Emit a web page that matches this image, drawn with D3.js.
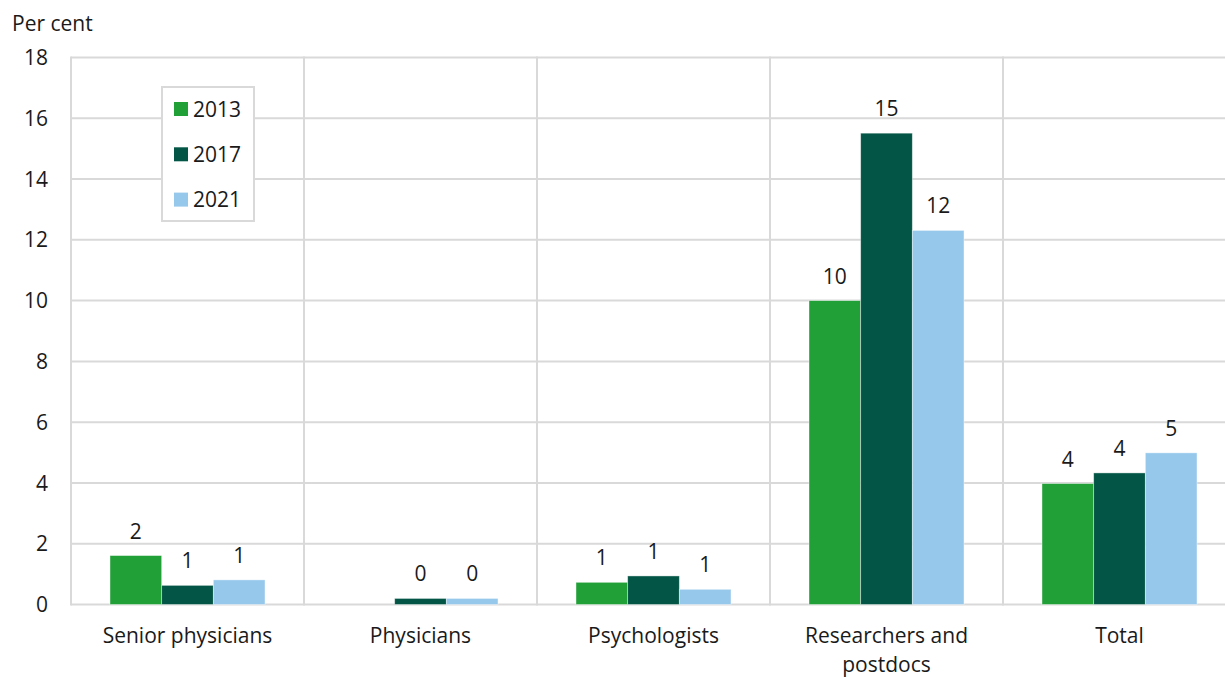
<!DOCTYPE html>
<html><head><meta charset="utf-8">
<script src="https://cdn.jsdelivr.net/npm/d3@7"></script>
<style>
body{margin:0;background:#fff;}
text{font-family:"Open Sans",sans-serif;fill:#1a1a1a;}
</style></head>
<body><svg id="c" width="1225" height="677"></svg>
<script>
const categories = [["Senior physicians"],["Physicians"],["Psychologists"],["Researchers and","postdocs"],["Total"]];
const seriesNames = ["2013","2017","2021"];
const v2013 = [1.61, null, 0.73, 10.0, 3.98];
const v2017 = [0.63, 0.2, 0.94, 15.51, 4.33];
const v2021 = [0.81, 0.2, 0.5, 12.31, 4.99];
const labels2013 = ["2", "", "1", "10", "4"];
const labels2017 = ["1", "0", "1", "15", "4"];
const labels2021 = ["1", "0", "1", "12", "5"];
const yTicks = [0,2,4,6,8,10,12,14,16,18];
const colors = ["#21a038","#035645","#96c8ec"];

(function(){
const FS = 21;
const series = [v2013, v2017, v2021];
const seriesLabels = [labels2013, labels2017, labels2021];
const svg = d3.select("#c");
const mLeft = 71, mTop = 57.5, mBottom = 604.5, catW = 233;
const x = d3.scaleBand().domain(d3.range(categories.length)).range([mLeft, mLeft + catW*categories.length]).paddingInner(0).paddingOuter(0);
const y = d3.scaleLinear().domain([0,18]).range([mBottom, mTop]);
const xs = d3.scaleBand().domain(d3.range(3)).range([39, catW-39]);

const grid = "#d9d9d9";
svg.append("g").selectAll("line").data(yTicks).join("line")
  .attr("x1", mLeft).attr("x2", 1225).attr("y1", d=>y(d)).attr("y2", d=>y(d))
  .attr("stroke", grid).attr("stroke-width", 2);
svg.append("g").selectAll("line").data(d3.range(categories.length)).join("line")
  .attr("x1", d=>x(d)).attr("x2", d=>x(d)).attr("y1", mTop-1).attr("y2", mBottom+1)
  .attr("stroke", grid).attr("stroke-width", 2);

svg.append("g").selectAll("text").data(yTicks).join("text")
  .attr("x", 48).attr("y", d=>y(d)).attr("dy","0.36em").attr("text-anchor","end")
  .attr("font-size", FS).text(d=>d);
svg.append("text").attr("x", 12).attr("y", 31).attr("font-size", FS).text("Per cent");

series.forEach((s, si) => {
  const g = svg.append("g");
  const d0 = s.map((v,i)=>({v,i})).filter(d=>d.v!==null);
  g.selectAll("rect").data(d0).join("rect")
    .attr("x", d=>x(d.i)+xs(si)).attr("width", xs.bandwidth())
    .attr("y", d=>y(d.v)).attr("height", d=>y(0)-y(d.v))
    .attr("fill", colors[si]).attr("stroke", "rgba(255,255,255,0.5)").attr("stroke-width", 0.8);
  g.selectAll("text").data(d0).join("text")
    .attr("x", d=>x(d.i)+xs(si)+xs.bandwidth()/2).attr("y", d=>y(d.v)-17)
    .attr("text-anchor","middle").attr("font-size",FS)
    .text(d=>seriesLabels[si][d.i]);
});

const xl = svg.append("g");
categories.forEach((lines,i)=>{
  const t = xl.append("text").attr("x", x(i)+catW/2).attr("y", 643).attr("text-anchor","middle").attr("font-size",FS);
  lines.forEach((ln,j)=>t.append("tspan").attr("x", x(i)+catW/2).attr("dy", j===0?0:29).text(ln));
});

const lg = svg.append("g");
lg.append("rect").attr("x",162).attr("y",87).attr("width",92).attr("height",134)
  .attr("fill","#fff").attr("stroke",grid).attr("stroke-width",2);
seriesNames.forEach((n,i)=>{
  const cy = 109 + i*45.3;
  lg.append("rect").attr("x",174).attr("y",cy-7).attr("width",14).attr("height",14).attr("fill",colors[i]);
  lg.append("text").attr("x",193).attr("y",cy).attr("dy","0.36em").attr("font-size",FS).text(n);
});
})();
</script></body></html>
